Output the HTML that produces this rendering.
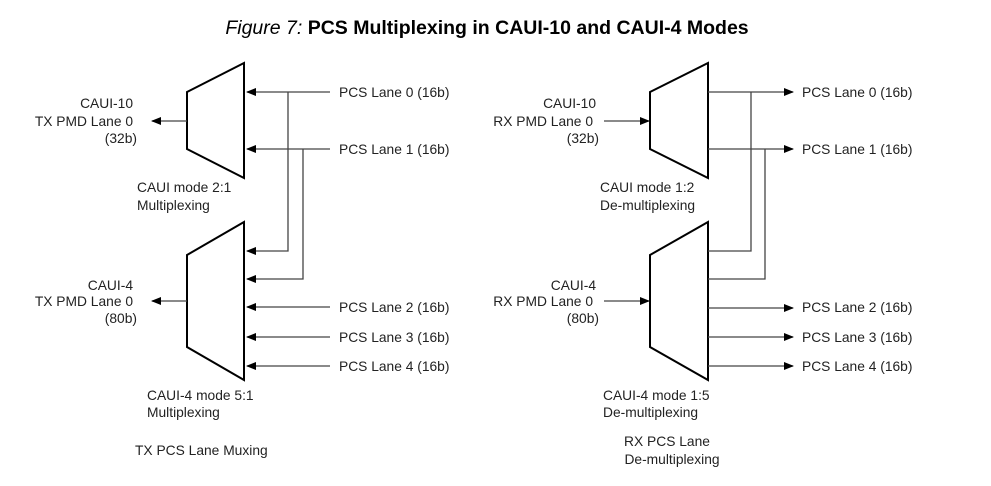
<!DOCTYPE html>
<html><head><style>
body{margin:0;background:#fff;width:991px;height:481px;overflow:hidden}
svg text{font-family:"Liberation Sans",sans-serif;font-size:13.8px;fill:#222}
</style></head><body>
<svg width="991" height="481" viewBox="0 0 991 481" xmlns="http://www.w3.org/2000/svg">
<defs>
<marker id="a" markerWidth="10" markerHeight="8" refX="9" refY="4" orient="auto" markerUnits="userSpaceOnUse"><path d="M0,0 L10,4 L0,8 z" fill="#000"/></marker>
</defs>
<text x="487" y="34" text-anchor="middle" style="font-size:19.5px;fill:#000"><tspan font-style="italic">Figure 7:</tspan><tspan font-weight="bold"> PCS Multiplexing in CAUI-10 and CAUI-4 Modes</tspan></text>
<g fill="none" stroke="#000" stroke-width="2">
<path d="M187,92 L244,63 L244,178 L187,149 Z"/>
<path d="M187,255 L244,222 L244,380 L187,347 Z"/>
<path d="M650,92 L708,63 L708,178 L650,149 Z"/>
<path d="M650,255 L708,222 L708,380 L650,347 Z"/>
</g>
<g stroke="#444" stroke-width="1.3" fill="none">
<line x1="330" y1="92" x2="247" y2="92" marker-end="url(#a)"/>
<line x1="330" y1="149" x2="247" y2="149" marker-end="url(#a)"/>
<polyline points="288,92 288,251 247,251" marker-end="url(#a)"/>
<polyline points="303,149 303,279 247,279" marker-end="url(#a)"/>
<line x1="330" y1="307" x2="247" y2="307" marker-end="url(#a)"/>
<line x1="330" y1="337" x2="247" y2="337" marker-end="url(#a)"/>
<line x1="330" y1="366" x2="247" y2="366" marker-end="url(#a)"/>
<line x1="187" y1="121" x2="152" y2="121" marker-end="url(#a)"/>
<line x1="187" y1="301" x2="152" y2="301" marker-end="url(#a)"/>
<line x1="708" y1="92" x2="793" y2="92" marker-end="url(#a)"/>
<line x1="708" y1="149" x2="793" y2="149" marker-end="url(#a)"/>
<polyline points="708,251 751,251 751,92"/>
<polyline points="708,279 765,279 765,149"/>
<line x1="708" y1="308" x2="793" y2="308" marker-end="url(#a)"/>
<line x1="708" y1="337" x2="793" y2="337" marker-end="url(#a)"/>
<line x1="708" y1="366" x2="793" y2="366" marker-end="url(#a)"/>
<line x1="604" y1="121" x2="649" y2="121" marker-end="url(#a)"/>
<line x1="604" y1="301" x2="649" y2="301" marker-end="url(#a)"/>
</g>
<g>
<text x="339" y="97">PCS Lane 0 (16b)</text>
<text x="339" y="154">PCS Lane 1 (16b)</text>
<text x="339" y="312">PCS Lane 2 (16b)</text>
<text x="339" y="342">PCS Lane 3 (16b)</text>
<text x="339" y="371">PCS Lane 4 (16b)</text>
<text x="802" y="97">PCS Lane 0 (16b)</text>
<text x="802" y="154">PCS Lane 1 (16b)</text>
<text x="802" y="312">PCS Lane 2 (16b)</text>
<text x="802" y="342">PCS Lane 3 (16b)</text>
<text x="802" y="371">PCS Lane 4 (16b)</text>
<text x="133" y="108" text-anchor="end">CAUI-10</text>
<text x="133" y="126" text-anchor="end">TX PMD Lane 0</text>
<text x="137" y="143" text-anchor="end">(32b)</text>
<text x="133" y="290" text-anchor="end">CAUI-4</text>
<text x="133" y="306" text-anchor="end">TX PMD Lane 0</text>
<text x="137" y="323" text-anchor="end">(80b)</text>
<text x="596" y="108" text-anchor="end">CAUI-10</text>
<text x="593" y="126" text-anchor="end">RX PMD Lane 0</text>
<text x="599" y="143" text-anchor="end">(32b)</text>
<text x="596" y="290" text-anchor="end">CAUI-4</text>
<text x="593" y="306" text-anchor="end">RX PMD Lane 0</text>
<text x="599" y="323" text-anchor="end">(80b)</text>
<text x="137" y="192">CAUI mode 2:1</text>
<text x="137" y="210">Multiplexing</text>
<text x="600" y="192">CAUI mode 1:2</text>
<text x="600" y="210">De-multiplexing</text>
<text x="147" y="400">CAUI-4 mode 5:1</text>
<text x="147" y="417">Multiplexing</text>
<text x="603" y="400">CAUI-4 mode 1:5</text>
<text x="603" y="417">De-multiplexing</text>
<text x="135" y="455">TX PCS Lane Muxing</text>
<text x="667" y="446" text-anchor="middle">RX PCS Lane</text>
<text x="672" y="464" text-anchor="middle">De-multiplexing</text>
</g>
</svg>
</body></html>
